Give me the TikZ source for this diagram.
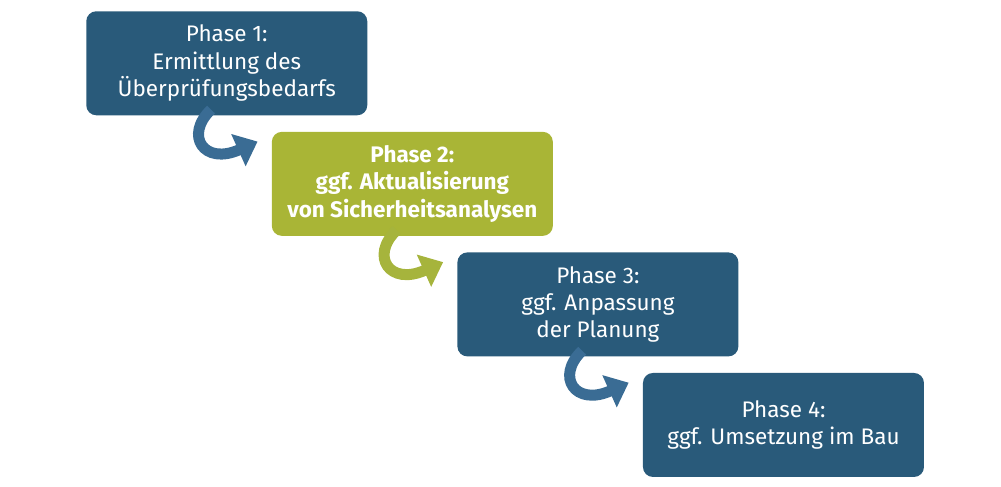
\documentclass[tikz,border=0pt]{standalone}
\usepackage{fontspec}
\setmainfont{Fira Sans}
\usetikzlibrary{positioning, arrows.meta}
\definecolor{BASEblue}{RGB}{41, 90, 122}
\definecolor{BASEgreen}{RGB}{169, 181, 54}
\definecolor{BASElblue}{RGB}{58, 108, 148}
\definecolor{BASElgreen}{RGB}{166, 180, 60}
\tikzset{
	phase/.style={shape=rectangle, rounded corners=0.25cm, minimum width=7.025cm, minimum height=2.6cm, align=center, text=white, font=\fontsize{16}{19.5}\selectfont},
	turn/.style={line width=0.275cm, -{Triangle[length=0.525cm, width=0.85cm]}}
}
\begin{document}
\begin{tikzpicture}[]
		\useasboundingbox (0,0) rectangle (25.025,-12.15);
		
		% Phasen
		\node[phase, fill=BASEblue, anchor=north west] (ph1) at (2.15,-0.275) {Phase 1:\\Ermittlung des\\Überprüfungsbedarfs};
		\node[phase, fill=BASEgreen, font=\fontsize{16}{19.5}\selectfont\bfseries, below right = 0.4cm and -2.4cm of ph1] (ph2) {Phase 2:\\ggf. Aktualisierung\\von Sicherheitsanalysen};
		\node[phase, fill=BASEblue, below right = 0.4cm and -2.4cm of ph2] (ph3) {Phase 3:\\ggf. Anpassung\\der Planung};
		\node[phase, fill=BASEblue, below right = 0.4cm and -2.4cm of ph3] (ph4) {Phase 4:\\ggf. Umsetzung im Bau};
		
		% Pfeile
		\draw[turn, BASElblue] ([shift={(3.125,0.15)}]ph1.south west) .. controls ([shift={(2.45,-0.5)}]ph1.south west) and ([shift={(2.95,-1.25)}]ph1.south west) .. ([shift={(-0.35,-0.25)}]ph2.north west);
		\draw[turn, BASElgreen] ([shift={(3.125,0.15)}]ph2.south west) .. controls ([shift={(2.45,-0.5)}]ph2.south west) and ([shift={(2.95,-1.25)}]ph2.south west) .. ([shift={(-0.35,-0.25)}]ph3.north west);
		\draw[turn, BASElblue] ([shift={(3.125,0.15)}]ph3.south west) .. controls ([shift={(2.45,-0.5)}]ph3.south west) and ([shift={(2.95,-1.25)}]ph3.south west) .. ([shift={(-0.35,-0.25)}]ph4.north west);
	\end{tikzpicture}
\end{document}
